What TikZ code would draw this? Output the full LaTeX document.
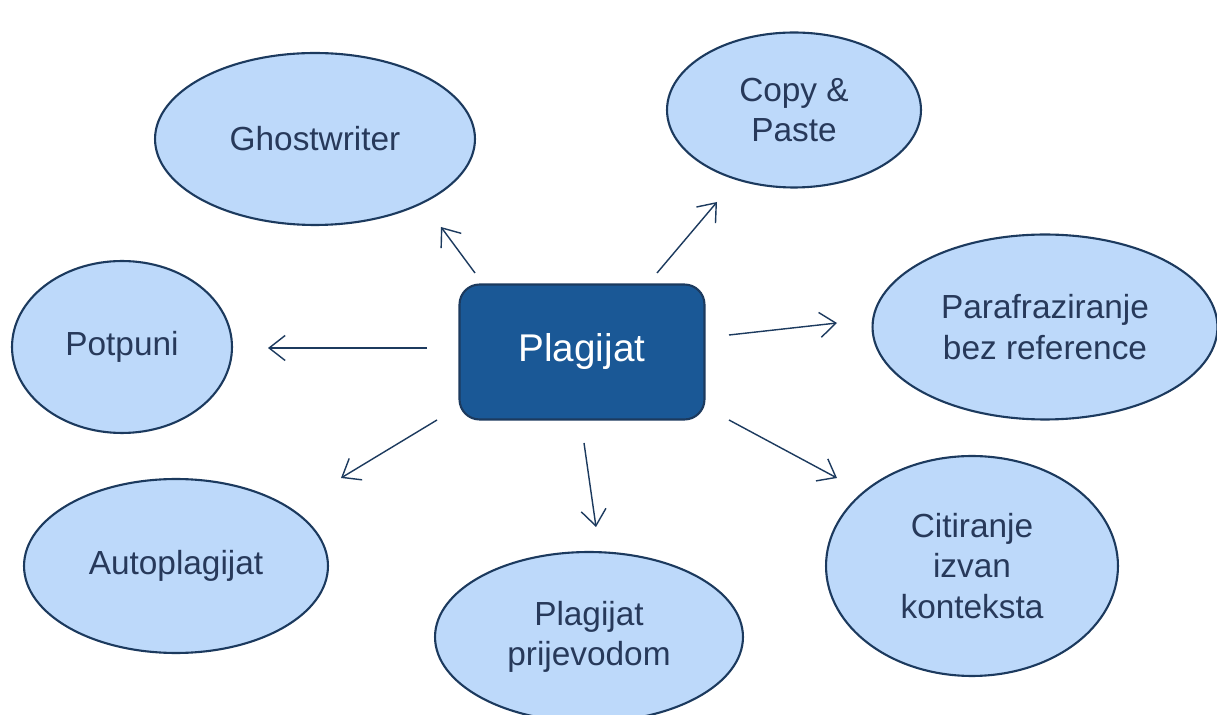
\documentclass[tikz,border=0pt]{standalone}
\usepackage{fontspec}
\setmainfont{Liberation Sans}
\usetikzlibrary{shapes.geometric,arrows.meta}
\definecolor{ovalfill}{HTML}{BDD9FA}
\definecolor{ovaldraw}{HTML}{1C3A5E}
\definecolor{boxfill}{HTML}{1A5896}
\definecolor{ovaltext}{HTML}{27395A}
\tikzset{
  oval/.style={ellipse, draw=ovaldraw, line width=1.2pt, fill=ovalfill, inner sep=0pt,
    align=center, text=ovaltext, font=\fontsize{19}{23}\selectfont},
  hub/.style={rectangle, rounded corners=0.4cm, draw=ovaldraw, line width=1.2pt, fill=boxfill,
    text=white, font=\fontsize{22}{26}\selectfont, minimum width=4.9cm, minimum height=2.7cm},
  spoke/.style={draw=ovaldraw, line width=0.8pt, -{Straight Barb[length=3.2mm,width=5mm]}},
}
\begin{document}
\begin{tikzpicture}[x=0.02cm,y=-0.02cm]
  \clip (0,0) rectangle (1217,715);
  \fill[white] (0,0) rectangle (1217,715);

  % Centre
  \node[hub] (plag) at (582,352) {Plagijat};

  % Ovals
  \node[oval, minimum width=6.4cm, minimum height=3.44cm] (ghost) at (315,139) {Ghostwriter};
  \node[oval, minimum width=5.08cm, minimum height=3.1cm] (copy) at (794,110) {Copy \&\\Paste};
  \node[oval, minimum width=6.9cm, minimum height=3.7cm] (para) at (1045,327) {Parafraziranje\\bez reference};
  \node[oval, minimum width=4.4cm, minimum height=3.44cm] (potp) at (122,347) {Potpuni};
  \node[oval, minimum width=6.08cm, minimum height=3.48cm] (auto) at (176,566) {Autoplagijat};
  \node[oval, minimum width=6.16cm, minimum height=3.4cm] (prij) at (589,637) {Plagijat\\prijevodom};
  \node[oval, minimum width=5.84cm, minimum height=4.4cm] (citi) at (972,566) {Citiranje\\izvan\\konteksta};

  % Arrow ends
  \coordinate (ghostS) at (475,273);  \coordinate (ghostE) at (441,227);
  \coordinate (copyS) at (657,273);   \coordinate (copyE) at (717,202);
  \coordinate (paraS) at (729,335);   \coordinate (paraE) at (837,323);
  \coordinate (citiS) at (729,420);   \coordinate (citiE) at (837,478);
  \coordinate (prijS) at (584,443);   \coordinate (prijE) at (596,527);
  \coordinate (autoS) at (437,420);   \coordinate (autoE) at (341,478);
  \coordinate (potpS) at (427,348);   \coordinate (potpE) at (268,348);

  \foreach \n in {ghost,copy,para,citi,prij,auto,potp}
    \draw[spoke] (\n S) -- (\n E);
\end{tikzpicture}
\end{document}
